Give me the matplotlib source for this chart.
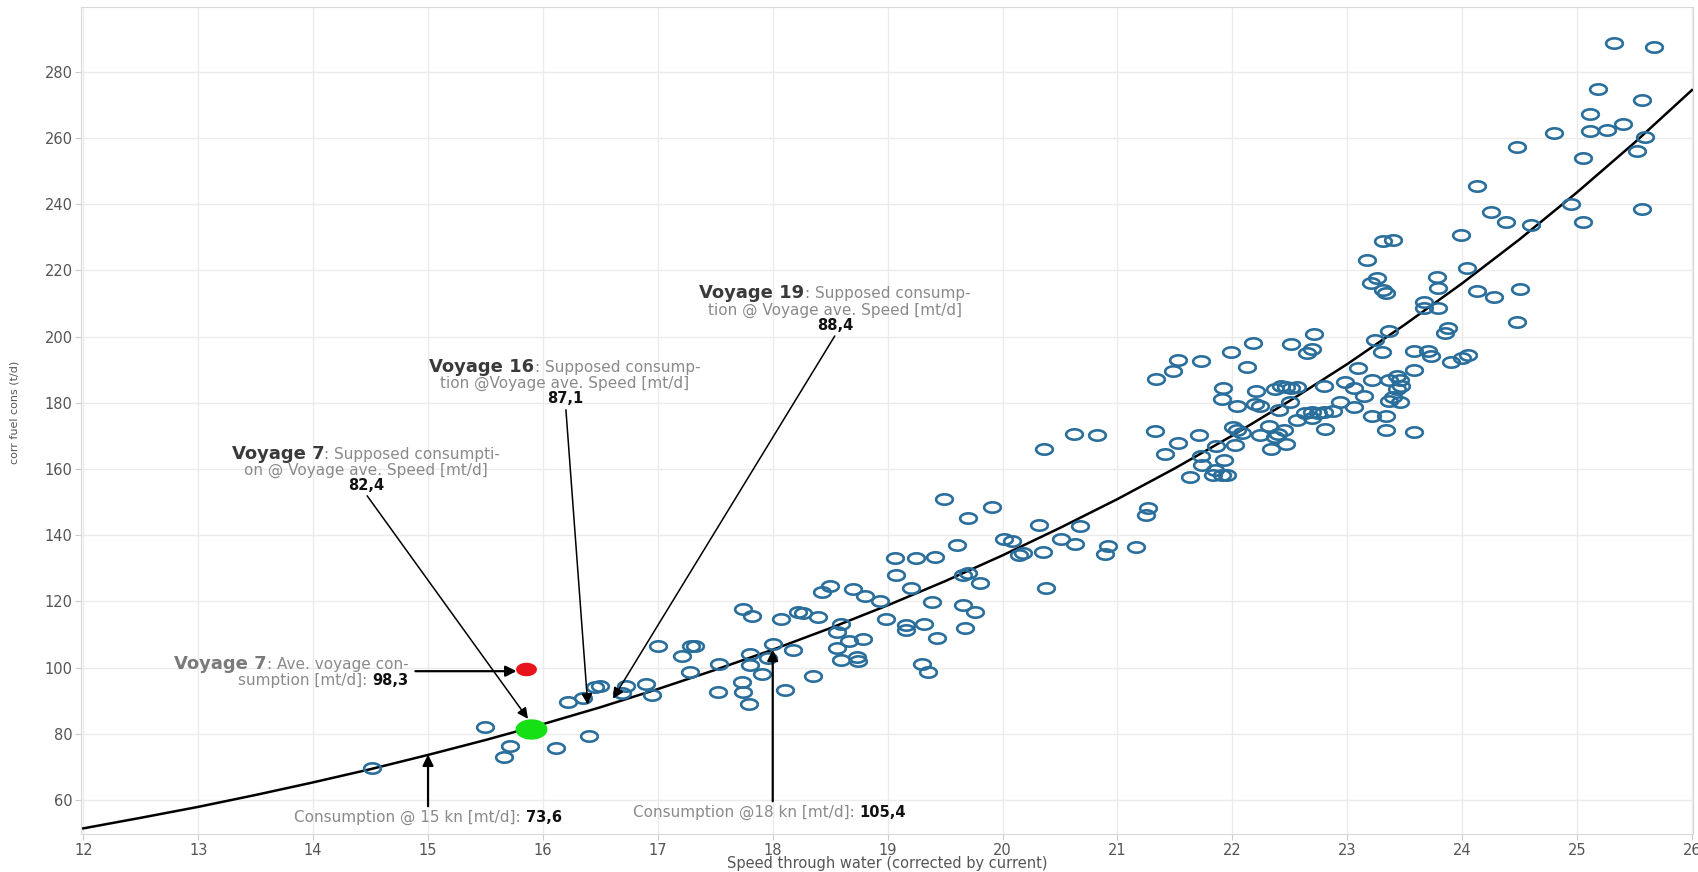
import numpy as np
import matplotlib
matplotlib.use("Agg")
import matplotlib.pyplot as plt
from matplotlib.path import Path
from matplotlib.offsetbox import TextArea, HPacker, VPacker, AnnotationBbox

# measured voyages: speed through water (kn) vs corrected fuel consumption (t/d)
speed = [
    14.51, 15.50, 15.71, 15.66, 16.11, 16.40, 16.22, 16.35, 16.45, 16.50, 16.72, 16.69, 16.90, 16.95,
    17.00, 17.21, 17.29, 17.32, 17.28, 17.53, 17.52, 17.74, 17.82, 17.80, 17.80, 17.91, 17.73, 17.74,
    17.79, 18.00, 17.96,
    18.07, 18.22, 18.26, 18.39, 18.18, 18.35, 18.11, 18.43, 18.50, 18.70, 18.80, 18.93, 18.59, 18.56,
    18.66, 18.79, 18.56, 18.59, 18.73, 18.74, 18.99,
    19.06, 19.25, 19.41, 19.07, 19.20, 19.16, 19.16, 19.32, 19.43, 19.30, 19.35, 19.39, 19.49, 19.60,
    19.66, 19.70, 19.80, 19.66, 19.76, 19.67, 19.70, 19.91,
    20.01, 20.08, 20.14, 20.18, 20.32, 20.35, 20.36, 20.38, 20.51, 20.62, 20.63, 20.67, 20.82, 20.92, 20.89,
    21.16, 21.27, 21.25, 21.33, 21.34, 21.48, 21.53, 21.73, 21.99, 21.41, 21.53, 21.71, 21.73, 21.74,
    21.63, 21.85, 21.83, 21.91, 21.95, 21.93, 21.86, 21.92, 21.91,
    22.02, 22.01, 22.04, 22.08, 22.04, 22.13, 22.18, 22.21, 22.20, 22.24, 22.24, 22.32, 22.34, 22.37,
    22.40, 22.45, 22.47, 22.37, 22.42, 22.47, 22.51, 22.56, 22.41, 22.50, 22.51, 22.65, 22.69, 22.71,
    22.56, 22.63, 22.69, 22.75, 22.80, 22.88, 22.69, 22.81, 22.80, 22.94, 22.98,
    23.06, 23.06, 23.09, 23.15, 23.22, 23.24, 23.30, 23.36, 23.22, 23.34, 23.34, 23.36, 23.43, 23.46,
    23.47, 23.43, 23.40, 23.36, 23.46, 23.58, 23.58, 23.58, 23.17, 23.21, 23.26, 23.31, 23.34, 23.31,
    23.40, 23.67, 23.67, 23.79, 23.78, 23.79, 23.70, 23.73, 23.85, 23.88, 23.90, 23.99,
    24.00, 24.05, 24.04, 24.13, 24.28, 24.50, 24.48, 24.13, 24.25, 24.38, 24.60, 24.48, 24.80, 24.95,
    25.05, 25.05, 25.11, 25.11, 25.26, 25.40, 25.18, 25.32, 25.67, 25.57, 25.59, 25.52, 25.57,
]
fuel = [
    69.7, 82.0, 76.4, 72.9, 75.6, 79.4, 89.7, 90.9, 94.0, 94.3, 94.3, 92.3, 95.0, 91.7,
    106.6, 103.4, 106.4, 106.6, 98.7, 101.2, 92.6, 117.8, 115.7, 104.2, 100.7, 98.1, 95.7, 92.6,
    89.1, 107.1, 103.0,
    114.7, 116.7, 116.5, 115.3, 105.2, 97.4, 93.1, 122.8, 124.5, 123.8, 121.5, 120.0, 113.2, 110.7,
    108.1, 108.7, 105.9, 102.4, 103.1, 102.1, 114.8,
    133.1, 133.1, 133.5, 127.9, 124.0, 113.0, 111.2, 113.2, 108.9, 101.1, 98.7, 119.7, 150.9, 137.0,
    128.1, 128.6, 125.4, 118.9, 116.7, 112.1, 145.1, 148.5,
    138.9, 138.1, 134.1, 134.6, 143.2, 134.8, 166.1, 124.0, 138.9, 170.5, 137.4, 142.8, 170.2, 136.8, 134.4,
    136.4, 148.2, 146.2, 171.5, 187.2, 189.6, 193.0, 192.7, 195.3, 164.6, 167.8, 170.3, 164.0, 161.3,
    157.6, 159.8, 158.3, 158.3, 158.3, 162.8, 166.8, 184.4, 181.1,
    167.3, 172.8, 171.8, 171.0, 179.1, 190.9, 198.0, 183.6, 179.6, 178.9, 170.3, 173.1, 166.0, 169.8,
    170.6, 171.8, 167.5, 184.1, 185.0, 184.9, 184.5, 184.9, 177.9, 180.1, 197.7, 195.0, 196.3, 200.7,
    174.9, 177.0, 177.3, 177.0, 177.2, 177.6, 175.4, 172.1, 185.1, 180.1, 186.4,
    184.4, 178.6, 190.6, 182.1, 186.9, 199.0, 195.5, 201.8, 175.9, 175.9, 171.8, 186.9, 188.0, 186.9,
    185.1, 184.1, 181.9, 180.4, 180.1, 195.7, 190.0, 171.2, 223.2, 216.3, 217.8, 214.1, 213.3, 228.9,
    229.1, 210.6, 208.8, 208.7, 218.1, 214.7, 195.6, 194.2, 201.0, 202.5, 192.2, 230.7,
    193.6, 194.3, 220.8, 213.9, 212.1, 214.4, 204.3, 245.4, 237.8, 234.7, 233.7, 257.4, 261.4, 240.0,
    253.9, 234.7, 267.4, 262.1, 262.4, 264.4, 274.8, 288.8, 287.5, 271.5, 260.4, 256.2, 238.6,
]

# speed/consumption curve, every half knot
curve_speed = [12.0, 12.5, 13.0, 13.5, 14.0, 14.5, 15.0, 15.5, 16.0, 16.5, 17.0, 17.5, 18.0, 18.5,
               19.0, 19.5, 20.0, 20.5, 21.0, 21.5, 22.0, 22.5, 23.0, 23.5, 24.0, 24.5, 25.0, 25.5, 26.0]
curve_fuel = [51.4, 54.6, 57.9, 61.5, 65.3, 69.3, 73.6, 78.1, 82.9, 88.0, 93.5, 99.3, 105.4, 111.9,
              118.8, 126.1, 133.9, 142.2, 150.9, 160.2, 170.1, 180.6, 191.7, 203.6, 216.1, 229.4,
              243.6, 258.6, 274.5]

# voyage 7 points
v7_actual = (15.85, 99.5)
v7_supposed = (15.90, 81.5)

xticks = list(range(12, 27))
yticks = list(range(60, 281, 20))

fig = plt.figure(figsize=(16.99, 8.72), dpi=100)
ax = fig.add_axes([0.0477, 0.0432, 0.9488, 0.9491])
ax.set_xlim(11.98, 26.01)
ax.set_ylim(49.6, 299.7)
ax.set_xticks(xticks)
ax.set_yticks(yticks)
ax.grid(True, color="#ebebeb", lw=1, zorder=0)
ax.set_axisbelow(True)
for s in ax.spines.values():
    s.set_color("#d9d9d9")
ax.tick_params(axis="both", colors="#cccccc", labelcolor="#555555", labelsize=10.5, length=4, pad=2)

# markers in the original are stretched sideways, so use an ellipse
t = np.linspace(0, 2 * np.pi, 60)
ell = Path(np.column_stack([np.cos(t), 0.62 * np.sin(t)]))

ax.plot(curve_speed, curve_fuel, color="black", lw=1.8, zorder=3)
ax.plot(speed, fuel, linestyle="none", marker=ell, ms=12, mfc="none", mec="#2a6e9c", mew=1.9, zorder=4)
ax.plot(*v7_actual, marker=ell, ms=14, color="#e8141b", linestyle="none", zorder=5)
ax.plot(*v7_supposed, marker=ell, ms=22, color="#14e014", linestyle="none", zorder=5)

ax.set_xlabel("Speed through water (corrected by current)", fontsize=10.5, color="#555555")
ax.xaxis.set_label_coords(0.5, -0.0347)
ax.xaxis.label.set_va("center")
ax.set_ylabel("corr fuel cons (t/d)", fontsize=8, color="#555555")
ax.yaxis.set_label_coords(-0.041, 0.51)
ax.yaxis.label.set_va("center")

HEAD = dict(size=13, weight="bold", color="#3a3a3a")
HEAD_GREY = dict(size=13, weight="bold", color="#7a7a7a")
GREY = dict(size=11, color="#8a8a8a")
VAL = dict(size=10.5, weight="bold", color="#111111")


def label_box(lines, xy, halign="center"):
    rows = []
    for parts in lines:
        areas = [TextArea(txt, textprops=p) for txt, p in parts]
        rows.append(HPacker(children=areas, align="baseline", pad=0, sep=0))
    box = VPacker(children=rows, align=halign, pad=0, sep=0)
    bx = {"center": 0.5, "right": 1.0, "left": 0.0}[halign]
    ab = AnnotationBbox(box, xy, xycoords="data", frameon=False, box_alignment=(bx, 0.5), zorder=6)
    ax.add_artist(ab)


def arrow(tail, tip, lw=1.1):
    ax.annotate("", xy=tip, xytext=tail, xycoords="data",
                arrowprops=dict(arrowstyle="-|>", color="black", lw=lw, mutation_scale=16,
                                shrinkA=0, shrinkB=0), zorder=6)


label_box([[("Voyage 7", HEAD), (": Supposed consumpti-", GREY)],
           [("on @ Voyage ave. Speed [mt/d]", GREY)],
           [("82,4", VAL)]], (14.46, 160.0))
arrow((14.47, 151.9), (15.87, 84.5))

label_box([[("Voyage 16", HEAD), (": Supposed consump-", GREY)],
           [("tion @Voyage ave. Speed [mt/d]", GREY)],
           [("87,1", VAL)]], (16.19, 186.2))
arrow((16.20, 177.9), (16.39, 88.8))

label_box([[("Voyage 19", HEAD), (": Supposed consump-", GREY)],
           [("tion @ Voyage ave. Speed [mt/d]", GREY)],
           [("88,4", VAL)]], (18.54, 208.5))
arrow((18.54, 200.2), (16.61, 90.6))

label_box([[("Voyage 7", HEAD_GREY), (": Ave. voyage con-", GREY)],
           [("sumption [mt/d]: ", GREY), ("98,3", VAL)]], (14.83, 98.8), halign="right")
arrow((14.89, 98.9), (15.77, 98.9), lw=1.6)

label_box([[("Consumption @ 15 kn [mt/d]: ", GREY), ("73,6", VAL)]], (15.0, 54.8))
arrow((15.0, 58.1), (15.0, 73.7), lw=1.6)

label_box([[("Consumption @18 kn [mt/d]: ", GREY), ("105,4", VAL)]], (17.97, 56.1))
arrow((18.0, 59.6), (18.0, 105.4), lw=1.6)

fig.savefig("out.png", dpi=100)
